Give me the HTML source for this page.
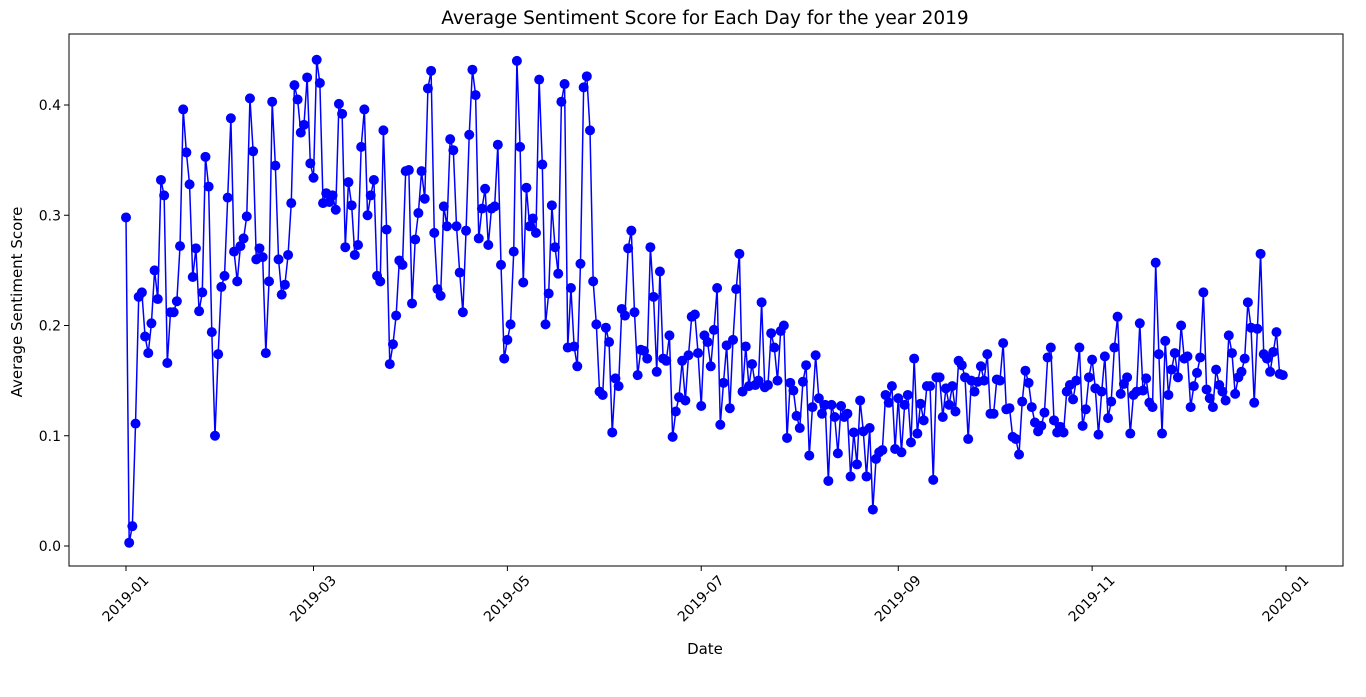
<!DOCTYPE html>
<html><head><meta charset="utf-8"><style>
body{margin:0;background:#fff;width:1366px;height:692px;overflow:hidden}
svg{font-family:"DejaVu Sans","Liberation Sans",sans-serif}
</style></head><body>
<svg id="chart" width="1366" height="692">
<text x="705" y="24" text-anchor="middle" font-size="18.5">Average Sentiment Score for Each Day for the year 2019</text>
<rect x="69" y="34" width="1274" height="532" fill="none" stroke="#000" stroke-width="1"/>
<g id="yticks"></g>
<g id="xticks"></g>
<g id="series"></g>
<text transform="translate(22,302) rotate(-90)" text-anchor="middle" font-size="15">Average Sentiment Score</text>
<text x="705" y="654" text-anchor="middle" font-size="15">Date</text>
</svg>
<script>
const yTicks=[0.0,0.1,0.2,0.3,0.4];
const xTickLabels=["2019-01","2019-03","2019-05","2019-07","2019-09","2019-11","2020-01"];
const xTickDays=[0,59,120,181,243,304,365];
const jan=[0.298,0.003,0.018,0.111,0.226,0.230,0.190,0.175,0.202,0.250,0.224,0.332,0.318,0.166,0.212,0.212,0.222,0.272,0.396,0.357,0.328,0.244,0.270,0.213,0.230,0.353,0.326,0.194,0.100,0.174,0.235];
const feb=[0.245,0.316,0.388,0.267,0.240,0.272,0.279,0.299,0.406,0.358,0.260,0.270,0.262,0.175,0.240,0.403,0.345,0.260,0.228,0.237,0.264,0.311,0.418,0.405,0.375,0.382,0.425,0.347];
const mar=[0.334,0.441,0.420,0.311,0.320,0.312,0.318,0.305,0.401,0.392,0.271,0.330,0.309,0.264,0.273,0.362,0.396,0.300,0.318,0.332,0.245,0.240,0.377,0.287,0.165,0.183,0.209,0.259,0.255,0.340,0.341];
const apr=[0.220,0.278,0.302,0.340,0.315,0.415,0.431,0.284,0.233,0.227,0.308,0.290,0.369,0.359,0.290,0.248,0.212,0.286,0.373,0.432,0.409,0.279,0.306,0.324,0.273,0.306,0.308,0.364,0.255,0.170];
const may=[0.187,0.201,0.267,0.440,0.362,0.239,0.325,0.290,0.297,0.284,0.423,0.346,0.201,0.229,0.309,0.271,0.247,0.403,0.419,0.180,0.234,0.181,0.163,0.256,0.416,0.426,0.377,0.240,0.201,0.140,0.137];
const jun=[0.198,0.185,0.103,0.152,0.145,0.215,0.209,0.270,0.286,0.212,0.155,0.178,0.177,0.170,0.271,0.226,0.158,0.249,0.170,0.168,0.191,0.099,0.122,0.135,0.168,0.132,0.173,0.208,0.210,0.175];
const jul=[0.127,0.191,0.185,0.163,0.196,0.234,0.110,0.148,0.182,0.125,0.187,0.233,0.265,0.140,0.181,0.145,0.165,0.146,0.150,0.221,0.144,0.146,0.193,0.180,0.150,0.195,0.200,0.098,0.148,0.141,0.118];
const aug=[0.107,0.149,0.164,0.082,0.126,0.173,0.134,0.120,0.128,0.059,0.128,0.117,0.084,0.127,0.117,0.120,0.063,0.103,0.074,0.132,0.104,0.063,0.107,0.033,0.079,0.085,0.087,0.137,0.130,0.145,0.088];
const sep=[0.134,0.085,0.128,0.137,0.094,0.170,0.102,0.129,0.114,0.145,0.145,0.060,0.153,0.153,0.117,0.143,0.128,0.145,0.122,0.168,0.164,0.153,0.097,0.150,0.140,0.149,0.163,0.150,0.174,0.120];
const oct=[0.120,0.151,0.150,0.184,0.124,0.125,0.099,0.097,0.083,0.131,0.159,0.148,0.126,0.112,0.104,0.109,0.121,0.171,0.180,0.114,0.103,0.108,0.103,0.140,0.146,0.133,0.150,0.180,0.109,0.124,0.153];
const nov=[0.169,0.143,0.101,0.140,0.172,0.116,0.131,0.180,0.208,0.138,0.147,0.153,0.102,0.137,0.140,0.202,0.141,0.152,0.130,0.126,0.257,0.174,0.102,0.186,0.137,0.160,0.175,0.153,0.200,0.170];
const dec=[0.172,0.126,0.145,0.157,0.171,0.230,0.142,0.134,0.126,0.160,0.146,0.140,0.132,0.191,0.175,0.138,0.153,0.158,0.170,0.221,0.198,0.130,0.197,0.265,0.174,0.170,0.158,0.176,0.194,0.156,0.155];
const values=[].concat(jan,feb,mar,apr,may,jun,jul,aug,sep,oct,nov,dec);

const NS="http://www.w3.org/2000/svg";
const xScale=d=>126+d*(1160/365);
const yScale=v=>546-v*1102.5;
function mk(tag,attrs,parent){const e=document.createElementNS(NS,tag);for(const k in attrs)e.setAttribute(k,attrs[k]);parent.appendChild(e);return e;}
const yg=document.getElementById('yticks');
yTicks.forEach(t=>{
  const y=yScale(t);
  const l=mk('line',{x1:64,x2:69,y1:y,y2:y,stroke:'#000'},yg);
  
  
  const tx=mk('text',{x:61,y:y+5,'text-anchor':'end','font-size':'14'},yg);
  tx.textContent=t.toFixed(1);
  
  
});
const xg=document.getElementById('xticks');
xTickDays.forEach((d,i)=>{
  const x=xScale(d);
  const l=mk('line',{x1:x,x2:x,y1:566,y2:571,stroke:'#000'},xg);
  
  
  const tx=mk('text',{transform:`translate(${x},${599}) rotate(-45)`,'text-anchor':'middle','dominant-baseline':'middle','font-size':'14'},xg);
  tx.textContent=xTickLabels[i];
  
  
});
const sg=document.getElementById('series');
const pts=values.map((v,i)=>xScale(i)+','+yScale(v)).join(' ');
const pl=mk('polyline',{points:pts,fill:'none',stroke:'#0000ff','stroke-width':1.5},sg);


values.forEach((v,i)=>{
  const c=mk('circle',{cx:xScale(i),cy:yScale(v),r:5,fill:'#0000ff'},sg);
  
  
});
</script>
</body></html>
